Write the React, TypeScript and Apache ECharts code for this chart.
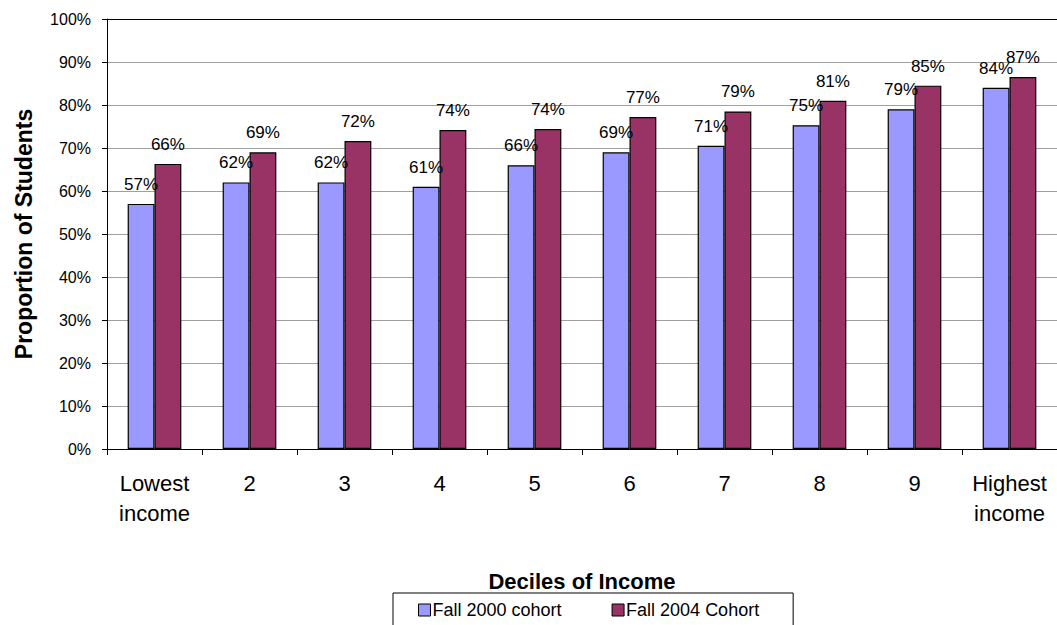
import React, { useEffect, useRef } from "react";
import * as echarts from "echarts";

const categories = ["Lowest\nincome", "2", "3", "4", "5", "6", "7", "8", "9", "Highest\nincome"];
const fall2000 = [57, 62, 62, 61, 66, 69, 70.5, 75.3, 79, 84];
const fall2004 = [66.3, 69, 71.6, 74.2, 74.4, 77.2, 78.5, 81, 84.5, 86.5];
const seriesNames = ["Fall 2000 cohort", "Fall 2004 Cohort"];
const yTicks = { min: 0, max: 100, interval: 10 };

export default function App() {
  const ref = useRef<HTMLDivElement>(null);
  useEffect(() => {
    if (!ref.current) return;
    const chart = echarts.init(ref.current, null, { renderer: "svg" });
    const font = "Arial, 'Liberation Sans', sans-serif";
    const labelCfg = {
      show: true,
      position: "top" as const,
      distance: 11,
      fontSize: 17,
      color: "#000",
      fontFamily: font,
      formatter: (p: any) => Math.round(p.value) + "%",
    };
    chart.setOption({
      animation: false,
      backgroundColor: "#fff",
      textStyle: { fontFamily: font },
      grid: { left: 107, top: 19, right: -7, bottom: 176, show: false },
      legend: {
        data: seriesNames,
        left: 393,
        top: 593,
        orient: "horizontal",
        icon: "rect",
        itemWidth: 12,
        itemHeight: 12,
        itemGap: 50,
        padding: [8, 34, 20, 25],
        borderColor: "#000",
        borderWidth: 1,
        textStyle: { fontSize: 18, color: "#000", fontFamily: font, padding: [0, 0, 0, -3] },
        itemStyle: { borderColor: "#000", borderWidth: 1 },
      },
      xAxis: [
        {
          type: "category",
          data: categories,
          position: "bottom",
          axisLine: { show: true, lineStyle: { color: "#000", width: 1 } },
          axisTick: { show: true, alignWithLabel: false, length: 6, inside: false, lineStyle: { color: "#000" } },
          axisLabel: { fontSize: 22, color: "#000", lineHeight: 30, margin: 19, fontFamily: font, interval: 0 },
          name: "Deciles of Income",
          nameLocation: "middle",
          nameGap: 121,
          nameTextStyle: { fontSize: 22, fontWeight: "bold", color: "#000", fontFamily: font },
        },
        {
          type: "category",
          data: categories,
          position: "top",
          axisLine: { show: true, lineStyle: { color: "#000", width: 1 } },
          axisTick: { show: false },
          axisLabel: { show: false },
        },
      ],
      yAxis: {
        type: "value",
        min: yTicks.min,
        max: yTicks.max,
        interval: yTicks.interval,
        axisLine: { show: true, lineStyle: { color: "#000", width: 1 } },
        axisTick: { show: true, length: 5, lineStyle: { color: "#000" } },
        axisLabel: { fontSize: 16, color: "#000", margin: 16, fontFamily: font, formatter: "{value}%" },
        splitLine: { show: true, lineStyle: { color: "#a0a0a0", width: 1 } },
        name: "Proportion of Students",
        nameLocation: "middle",
        nameRotate: 90,
        nameGap: 72,
        nameTextStyle: { fontSize: 23, fontWeight: "bold", color: "#000", fontFamily: font },
      },
      series: [
        {
          name: seriesNames[0],
          type: "bar",
          data: fall2000,
          barGap: "0%",
          barCategoryGap: "43.5%",
          itemStyle: { color: "#9999FF", borderColor: "#000", borderWidth: 1.2 },
          label: labelCfg,
        },
        {
          name: seriesNames[1],
          type: "bar",
          data: fall2004,
          barGap: "0%",
          barCategoryGap: "43.5%",
          itemStyle: { color: "#993366", borderColor: "#000", borderWidth: 1.2 },
          label: labelCfg,
        },
      ],
    });
    return () => chart.dispose();
  }, []);
  return (
    <div
      ref={ref}
      style={{ position: "absolute", left: 0, top: 0, width: 1057, height: 625, background: "#fff" }}
    />
  );
}
